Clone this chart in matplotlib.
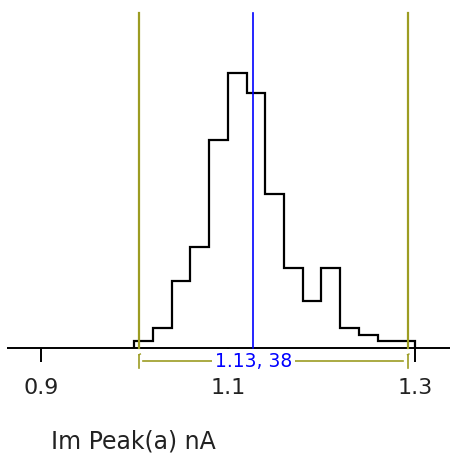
import numpy as np
import matplotlib
matplotlib.use("Agg")
import matplotlib.pyplot as plt

# Data
bin_edges = [1.00, 1.02, 1.04, 1.06, 1.08, 1.10, 1.12, 1.14, 1.16, 1.18,
             1.20, 1.22, 1.24, 1.26, 1.28, 1.30]
counts = [1, 3, 10, 15, 31, 41, 38, 23, 12, 7, 12, 3, 2, 1, 1]
mean_value = 1.1274
lower_limit = 1.005
upper_limit = 1.292
tick_values = [0.9, 1.1, 1.3]
tick_labels = ["0.9", "1.1", "1.3"]
annotation = "1.13, 38"
xlabel = "Im Peak(a) nA"

olive = "#9c9c22"
fig = plt.figure(figsize=(4.5, 4.57), dpi=100)
ax = fig.add_axes([0, 0, 1, 1])
ax.set_xlim(0.8565, 1.3374)
ax.set_ylim(-16.27, 51.94)
ax.axis("off")

# axis line
ax.plot([0.864, 1.3374], [0, 0], color="black", lw=1.4, solid_capstyle="butt", zorder=2)
# ticks
for tv, tl in zip(tick_values, tick_labels):
    ax.plot([tv, tv], [0, -2.1], color="black", lw=1.4, solid_capstyle="butt", zorder=2)
    ax.text(tv, -5.9, tl, ha="center", va="center", fontsize=16,
            family="DejaVu Sans", color="#222222")

# histogram
ax.stairs(counts, bin_edges, color="black", lw=1.6, baseline=0, zorder=3)

# limit lines
ax.plot([lower_limit, lower_limit], [0, 50.04], color=olive, lw=1.6, zorder=4)
ax.plot([upper_limit, upper_limit], [0, 50.04], color=olive, lw=1.6, zorder=4)
# mean line
ax.plot([mean_value, mean_value], [0, 50.04], color="#0000ff", lw=1.2, zorder=5)

# bracket
yb = -1.94
ax.plot([lower_limit + 0.0045, upper_limit - 0.0045], [yb, yb], color=olive, lw=1.2, zorder=4)
for xv in (lower_limit, upper_limit):
    ax.plot([xv, xv], [-1.0, -3.0], color=olive, lw=1.2, zorder=4)
    ax.plot([xv, xv + 0.0015], [-1.0, -0.9], color=olive, lw=1.0, zorder=4)

ax.text(mean_value, yb - 0.1, annotation, ha="center", va="center", fontsize=13.5,
        family="DejaVu Sans", color="#0000ff", zorder=6,
        bbox=dict(facecolor="white", edgecolor="none", pad=2.2))

ax.text(0.9114, -14.0, xlabel, ha="left", va="center", fontsize=17,
        family="DejaVu Sans", color="#222222")

fig.savefig("out.png", dpi=100)
